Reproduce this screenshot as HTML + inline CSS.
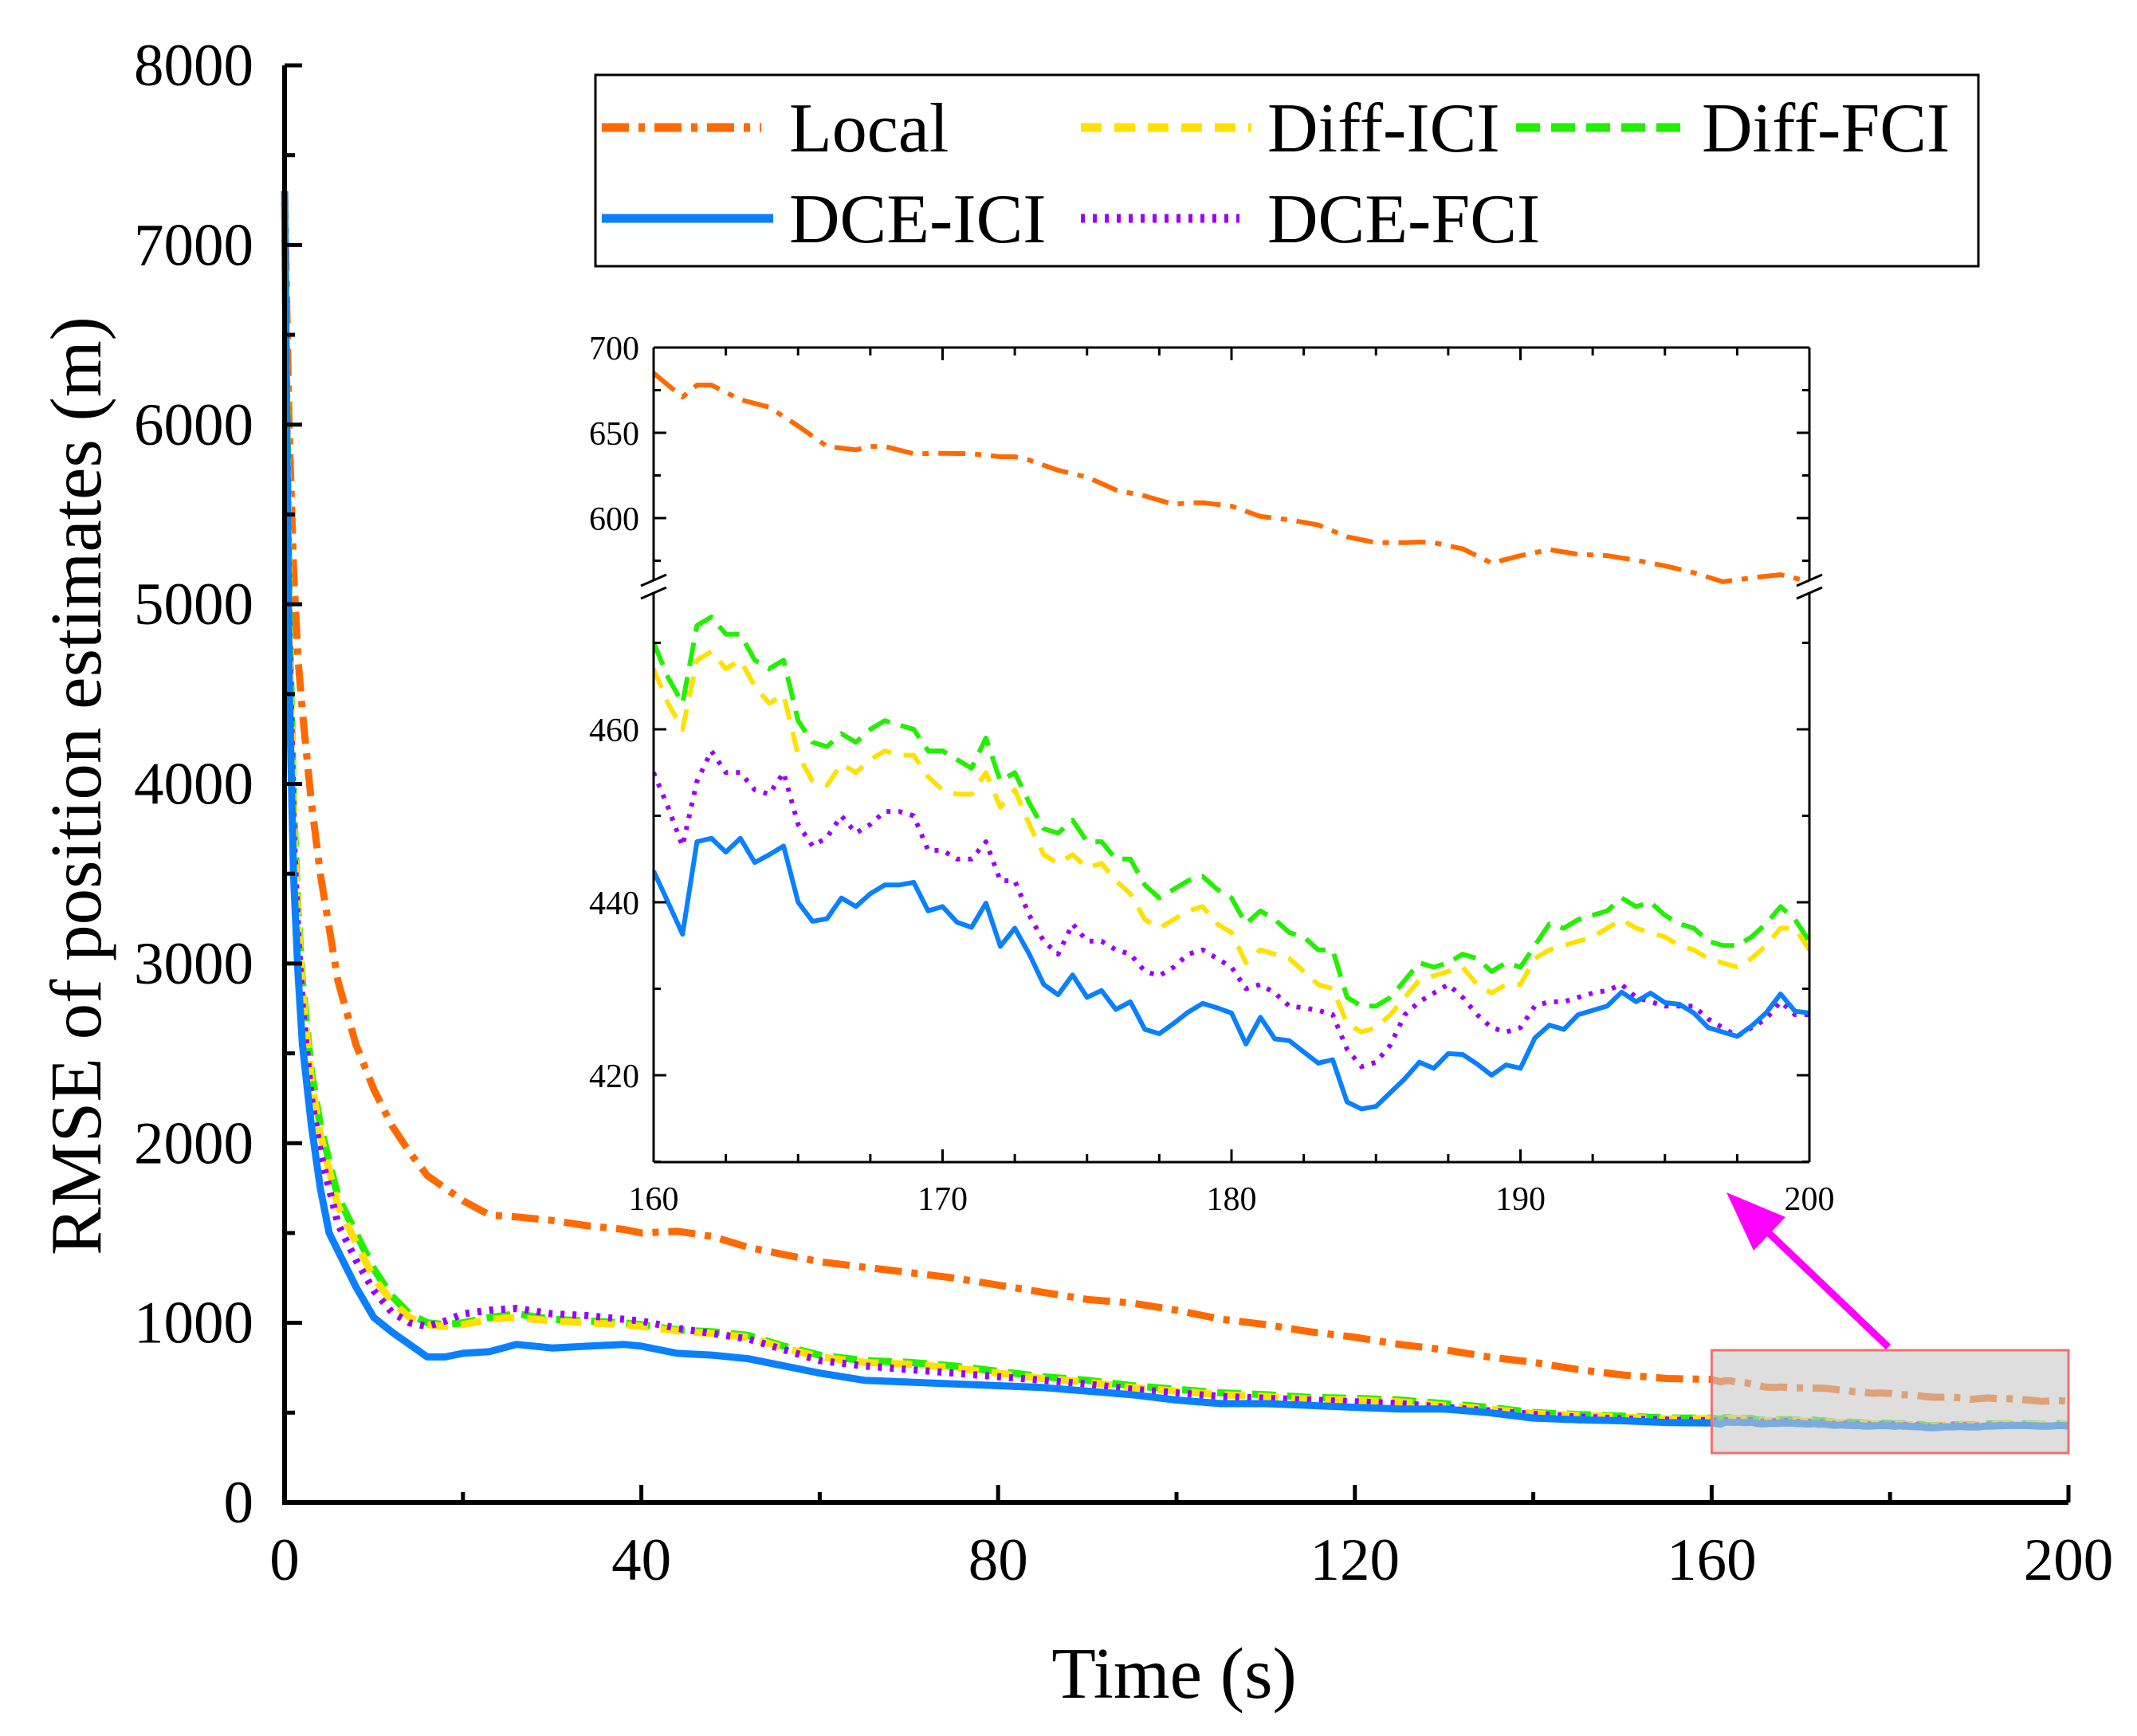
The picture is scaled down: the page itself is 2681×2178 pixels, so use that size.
<!DOCTYPE html>
<html><head><meta charset="utf-8"><style>
html,body{margin:0;padding:0;background:#fff;}
svg{display:block;font-family:"Liberation Serif",serif;}
</style></head><body>
<svg id="chart" width="2681" height="2178" viewBox="0 0 2681 2178" xmlns="http://www.w3.org/2000/svg">
<rect x="0" y="0" width="2681" height="2178" fill="#fff"/>
<g id="main"></g>
<g id="inset"></g>
<g id="legend"></g>
</svg>
<script>
const NS="http://www.w3.org/2000/svg";
// ---------- main chart data ----------
const mainTimes=[0,0.5,1,1.5,2,3,4,5,6,8,10,12,14,16,18,20,23,26,30,34,38,40,44,48,52,56,60,65,70,75,80,85,90,95,100,105,110,115,120,125,130,135,140,145,150,155,160];
const mainLocal=[7300,6000,5200,4700,4400,3900,3500,3200,2900,2550,2300,2100,1950,1820,1750,1680,1600,1590,1570,1540,1520,1500,1510,1480,1420,1380,1340,1310,1280,1250,1210,1170,1130,1110,1070,1020,990,950,920,880,850,810,780,740,710,690,685];
const mainDiffFCI=[7300,5000,3900,3300,2900,2400,2100,1900,1700,1500,1300,1150,1050,1000,990,1000,1030,1050,1020,1010,1000,990,960,950,930,870,820,790,780,760,730,700,680,650,630,610,600,585,580,570,550,530,500,490,480,470,470];
const mainDiffICI=[7300,4900,3800,3250,2850,2350,2050,1850,1650,1450,1250,1120,1030,990,980,990,1020,1030,1010,1000,990,980,955,940,920,860,810,780,770,750,720,690,670,640,620,600,590,575,570,560,540,520,495,485,475,465,467];
const mainDceFCI=[7300,4800,3700,3150,2750,2250,1950,1750,1550,1350,1180,1060,1000,980,1010,1050,1070,1080,1050,1040,1020,1010,970,940,910,850,790,760,740,720,700,680,660,630,610,590,580,570,560,550,530,510,490,475,465,458,455];
const mainDceICI=[7300,4600,3500,2950,2550,2100,1750,1500,1400,1200,1030,950,880,810,810,830,840,880,860,870,880,870,830,820,800,760,720,680,670,660,650,640,620,600,570,550,550,540,530,520,520,500,470,460,455,445,443];
const mainXTicks=[0,40,80,120,160,200];
const mainYTicks=[0,1000,2000,3000,4000,5000,6000,7000,8000];
// ---------- inset data (160-200 s) ----------
const localTimes=[160,161,161.5,162,163,164,165,166,167,167.5,168,169,170,171,172,172.5,173,174,175,176,177,178,178.5,179,180,181,182,183,184,185,186,186.5,187,188,189,190,191,192,193,194,195,196,197,198,199,200];
const insetLocal=[685,671,678,678,669.5,665,654,642,640,642,642,637.7,638,637.7,636,636,634,628,624,616.5,613,608,609,609,607,601,599,596,589,585.6,585.6,586,585.6,582,573.6,578,581.5,578.8,578,575.3,572,568,562.7,565,566.8,562.7];
const insetDceICI=[443.6,440,436.3,447,447.4,445.8,447.4,444.6,445.5,446.5,440,437.8,438.1,440.5,439.5,441,442,442,442.3,439,439.5,437.7,437.1,439.9,434.9,437,434,430.5,429.3,431.6,429,429.8,427.6,428.5,425.3,424.8,426,427.3,428.3,427.8,427.2,423.6,426.7,424.2,424,422.7,421.4,421.8,416.9,416.1,416.4,418,419.6,421.5,420.8,422.5,422.4,421.3,420,421.2,420.8,424.3,425.8,425.3,427,427.5,428,429.6,428.5,429.5,428.4,428.2,427.2,425.5,425,424.5,425.7,427.2,429.4,427.4,427.2];
const insetDiffFCI=[470,466,463,472,473,471,471,468,467,468,461,458.5,458,459.5,458.5,460,461,460.5,460,457.5,457.5,456.5,455.5,459,454,455,451.5,448.5,448,449.5,447,447,445,445,442,440.5,441.5,442.5,443,441.5,440.5,437.5,439,438,436.5,436,434.5,434.5,429,428,428,429,431,433,432.5,433,434,433.5,432,433,432.5,435,437.5,437,438,438.5,439,440.5,439.5,440,438.5,437.5,437,435.5,435,435,436,437.5,439.5,438,435.5];
const insetDiffICI=[467,463,460,468,469,467,468,465,463,464,457,454,453.5,456,455,456.5,457.5,457,457,454.5,453,452.5,452.5,455,451,453,449,445.5,444.5,445.5,444,444.5,442.5,441,438,437,438,439,439.5,437.5,436.5,433,434.5,434,433.5,432,430.5,430,426,425,425.5,427,429,431,431.5,432,432.5,430.5,429.5,430.5,430.5,433.5,434.5,435,435.5,436,437,438,437,436.5,436,435,434.5,433.5,433,432.5,433.5,435,437,437,434.5];
const insetDceFCI=[455,451,446.5,454,457.5,455,455,453,452.5,455,449,446.5,447.5,450,448,449,450.5,450.5,450,446,446,445,445,447,442.5,442.5,438.5,435.5,434,437.5,435.5,435.5,434.5,434,432,431.5,432.5,434,434.5,433.5,432.5,430,430.5,429.5,428,427.8,427.5,427,423,421,421.5,423.5,427,428.5,429.5,430.5,429,427,425.5,425,425.5,428,428.5,428.5,429,429.5,429.8,430.5,429,428.5,428,428,428,426.5,425.5,424.5,425.5,426.5,428.5,427,427];
const insetXTicks=[160,170,180,190,200];
const insetUpperTicks=[600,650,700];
const insetLowerTicks=[420,440,460];

function el(tag,attrs,parent,text){const e=document.createElementNS(NS,tag);for(const k in attrs)e.setAttribute(k,attrs[k]);if(text!==undefined)e.textContent=text;parent.appendChild(e);return e;}

const styles={
 local:{color:"#ff6a00",dash:"34 12 8 12"},
 diffICI:{color:"#ffe100",dash:"26 16"},
 diffFCI:{color:"#22f000",dash:"30 14"},
 dceICI:{color:"#0a80ff",dash:""},
 dceFCI:{color:"#9a00ff",dash:"5 10"}
};

// ---------- main axes ----------
const X0=357,X1=2595,Y0=1885,Y1=82;
const mx=t=>X0+(t/200)*(X1-X0);
const my=v=>Y0-(v/8000)*(Y0-Y1);
const gm=document.getElementById('main');

function mainSeries(name,times,vals,extraT,extraV,st){
  const pts=[];
  times.forEach((t,i)=>pts.push(mx(t).toFixed(1)+","+my(vals[i]).toFixed(1)));
  extraT.forEach((t,i)=>{if(t>160)pts.push(mx(t).toFixed(1)+","+my(extraV[i]).toFixed(1));});
  const p=el('polyline',{points:pts.join(' '),fill:'none',stroke:st.color,'stroke-width':9,'stroke-dasharray':st.dash,'stroke-linejoin':'round'},gm);
  
  
}
const insetTimes=insetDceICI.map((_,i)=>160+i*0.5);
mainSeries('local-line-main',mainTimes,mainLocal,localTimes,insetLocal,styles.local);
mainSeries('diff-fci-line-main',mainTimes,mainDiffFCI,insetTimes,insetDiffFCI,styles.diffFCI);
mainSeries('diff-ici-line-main',mainTimes,mainDiffICI,insetTimes,insetDiffICI,styles.diffICI);
mainSeries('dce-fci-line-main',mainTimes,mainDceFCI,insetTimes,insetDceFCI,styles.dceFCI);
mainSeries('dce-ici-line-main',mainTimes,mainDceICI,insetTimes,insetDceICI,styles.dceICI);

// highlight box
const hb=el('rect',{x:mx(160),y:1694,width:mx(200)-mx(160),height:129,fill:'rgba(200,200,200,0.6)',stroke:'#f07070','stroke-width':3},gm);


// arrow
const ar=el('g',{},gm);


el('line',{x1:2369,y1:1690,x2:2215,y2:1543,stroke:'#ff00ff','stroke-width':9},ar);
el('polygon',{points:"2166,1496 2240,1527 2200,1569",fill:'#ff00ff'},ar);

// axes lines
const ax=el('g',{},gm);


el('line',{x1:X0,y1:Y1,x2:X0,y2:Y0+3,stroke:'#000','stroke-width':6},ax);
el('line',{x1:X0-3,y1:Y0,x2:X1,y2:Y0,stroke:'#000','stroke-width':6},ax);
for(let v=0;v<=8000;v+=500){const y=my(v);el('line',{x1:X0,y1:y,x2:X0+(v%1000===0?22:13),y2:y,stroke:'#000','stroke-width':5},ax);}
for(let t=0;t<=200;t+=20){const x=mx(t);el('line',{x1:x,y1:Y0,x2:x,y2:Y0-(t%40===0?22:13),stroke:'#000','stroke-width':5},ax);}
mainYTicks.forEach(v=>{const t=el('text',{x:318,y:my(v)+25,'text-anchor':'end','font-size':75},ax,String(v));});
mainXTicks.forEach(v=>{const t=el('text',{x:mx(v),y:1982,'text-anchor':'middle','font-size':75},ax,String(v));});
const xt=el('text',{x:1473,y:2130,'text-anchor':'middle','font-size':91},gm,'Time (s)');

const yt=el('text',{x:0,y:0,'text-anchor':'middle','font-size':91,transform:'translate(126,986) rotate(-90)'},gm,'RMSE of position estimates (m)');


// ---------- inset ----------
const gi=document.getElementById('inset');
const IX0=820,IX1=2270,IY0=436,IY1=1458;
const ix=t=>IX0+(t-160)/40*(IX1-IX0);
const iyU=v=>436+(700-v)*2.14;
const iyL=v=>1349-(v-420)*10.85;
const ibg=el('rect',{x:IX0,y:IY0,width:IX1-IX0,height:IY1-IY0,fill:'#fff'},gi);

const cp=el('clipPath',{id:'iclip'},gi);
el('rect',{x:IX0,y:IY0,width:IX1-IX0,height:IY1-IY0},cp);
const gl=el('g',{'clip-path':'url(#iclip)'},gi);
function insetSeries(name,times,vals,fy,st){
  const pts=times.map((t,i)=>ix(t).toFixed(1)+","+fy(vals[i]).toFixed(1)).join(' ');
  const p=el('polyline',{points:pts,fill:'none',stroke:st.color,'stroke-width':6,'stroke-dasharray':st.dash,'stroke-linejoin':'round'},gl);
  
  
}
insetSeries('local-line-inset',localTimes,insetLocal,iyU,styles.local);
insetSeries('diff-fci-line-inset',insetTimes,insetDiffFCI,iyL,styles.diffFCI);
insetSeries('diff-ici-line-inset',insetTimes,insetDiffICI,iyL,styles.diffICI);
insetSeries('dce-fci-line-inset',insetTimes,insetDceFCI,iyL,styles.dceFCI);
insetSeries('dce-ici-line-inset',insetTimes,insetDceICI,iyL,styles.dceICI);
const ia=el('g',{},gi);

const brk=737;
el('line',{x1:IX0,y1:IY0,x2:IX1,y2:IY0,stroke:'#000','stroke-width':3},ia);
el('line',{x1:IX0,y1:IY1,x2:IX1,y2:IY1,stroke:'#000','stroke-width':3},ia);
[IX0,IX1].forEach(x=>{
  el('line',{x1:x,y1:IY0,x2:x,y2:brk-8,stroke:'#000','stroke-width':3},ia);
  el('line',{x1:x,y1:brk+8,x2:x,y2:IY1,stroke:'#000','stroke-width':3},ia);
  el('line',{x1:x-16,y1:brk-2,x2:x+16,y2:brk-16,stroke:'#000','stroke-width':3},ia);
  el('line',{x1:x-16,y1:brk+14,x2:x+16,y2:brk,stroke:'#000','stroke-width':3},ia);
});
for(let t=160;t<=200;t+=2.5){const x=ix(t),L=(t%10===0)?16:10;
  el('line',{x1:x,y1:IY1,x2:x,y2:IY1-L,stroke:'#000','stroke-width':3},ia);
  el('line',{x1:x,y1:IY0,x2:x,y2:IY0+L,stroke:'#000','stroke-width':3},ia);}
for(let v=575;v<=700;v+=25){const y=iyU(v),L=(v%50===0)?16:9;
  el('line',{x1:IX0,y1:y,x2:IX0+L,y2:y,stroke:'#000','stroke-width':3},ia);
  el('line',{x1:IX1,y1:y,x2:IX1-L,y2:y,stroke:'#000','stroke-width':3},ia);}
for(let v=410;v<=470;v+=10){const y=iyL(v),L=(v%20===0)?16:9;
  el('line',{x1:IX0,y1:y,x2:IX0+L,y2:y,stroke:'#000','stroke-width':3},ia);
  el('line',{x1:IX1,y1:y,x2:IX1-L,y2:y,stroke:'#000','stroke-width':3},ia);}
insetUpperTicks.forEach(v=>{const t=el('text',{x:802,y:iyU(v)+15,'text-anchor':'end','font-size':42},ia,String(v));});
insetLowerTicks.forEach(v=>{const t=el('text',{x:802,y:iyL(v)+15,'text-anchor':'end','font-size':42},ia,String(v));});
insetXTicks.forEach(v=>{const t=el('text',{x:ix(v),y:1518,'text-anchor':'middle','font-size':42},ia,String(v));});

// ---------- legend ----------
const lg=document.getElementById('legend');
const lbox=el('rect',{x:747,y:94,width:1735,height:240,fill:'#fff',stroke:'#000','stroke-width':3},lg);

const entries=[
 ['Local',styles.local,755,955,990,160],
 ['Diff-ICI',styles.diffICI,1356,1570,1590,160],
 ['Diff-FCI',styles.diffFCI,1902,2110,2135,160],
 ['DCE-ICI',styles.dceICI,755,970,990,274],
 ['DCE-FCI',styles.dceFCI,1356,1555,1590,274]
];
entries.forEach(e=>{
  const g=el('g',{},lg);
  
  
  el('line',{x1:e[2],y1:e[5],x2:e[3],y2:e[5],stroke:e[1].color,'stroke-width':11,'stroke-dasharray':e[1].dash},g);
  el('text',{x:e[4],y:e[5]+30,'font-size':88},g,e[0]);
});
</script>
</body></html>
